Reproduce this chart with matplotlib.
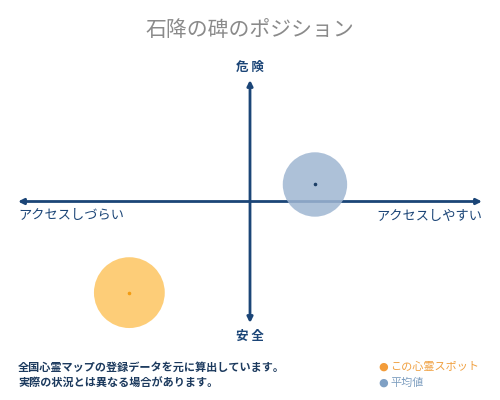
import matplotlib.pyplot as plt
import matplotlib as mpl

mpl.rcParams['font.family'] = ['Noto Sans CJK JP', 'DejaVu Sans']

# Data
title = '石降の碑のポジション'
y_labels = ['安 全', '危 険']
x_labels = ['アクセスしづらい', 'アクセスしやすい']
point_names = ['この心霊スポット', '平均値']
point_x = [-0.52, 0.28]
point_y = [-0.75, 0.14]
point_colors = ['#fdc561', '#9fb6d2']
dot_colors = ['#f39c12', '#1c3f66']
point_sizes = [2600, 2150]
notes = ['全国心霊マップの登録データを元に算出しています。',
         '実際の状況とは異なる場合があります。']

navy = '#1b4577'

fig = plt.figure(figsize=(5, 4), dpi=100)

def fx(px):
    return px / 500

def fy(py):
    return 1 - py / 400

# quadrant area
ax = fig.add_axes([fx(18), fy(323), fx(482) - fx(18), fy(80) - fy(323)])
ax.set_xlim(-1, 1)
ax.set_ylim(-1, 1)
ax.axis('off')

arrow = dict(arrowstyle='<|-|>', color=navy, lw=2.0, mutation_scale=8,
             shrinkA=0, shrinkB=0)
ax.annotate('', xy=(-1, 0.0), xytext=(1, 0.0), arrowprops=arrow)
ax.annotate('', xy=(0, -1), xytext=(0, 1), arrowprops=arrow)

for i in range(len(point_names)):
    ax.scatter(point_x[i], point_y[i], s=point_sizes[i], color=point_colors[i],
               alpha=0.85, edgecolors='none', zorder=3, clip_on=False)
    ax.scatter(point_x[i], point_y[i], s=2.5, color=dot_colors[i], zorder=4,
               clip_on=False)

# texts
fig.text(0.5, fy(30), title, ha='center', va='center', fontsize=15, color='#8a8a8a')
fig.text(0.5, fy(67), y_labels[1], ha='center', va='center', fontsize=9,
         color=navy, fontweight='bold')
fig.text(0.5, fy(336), y_labels[0], ha='center', va='center', fontsize=9,
         color=navy, fontweight='bold')
fig.text(fx(18), fy(216), x_labels[0], ha='left', va='center', fontsize=9.5,
         color=navy)
fig.text(fx(482), fy(216), x_labels[1], ha='right', va='center', fontsize=9.5,
         color=navy)

fig.text(fx(18), fy(367), notes[0], ha='left', va='center', fontsize=8,
         color='#1c3a5e', fontweight='bold')
fig.text(fx(18), fy(383), notes[1], ha='left', va='center', fontsize=8,
         color='#1c3a5e', fontweight='bold')

legend_text_colors = ['#f0a040', '#7f9fc0']
legend_marker_colors = ['#f39c3a', '#7fa0c4']
for i, name in enumerate(point_names):
    yy = fy(367 + 16 * i)
    fig.text(fx(383), yy, '●', ha='center', va='center', fontsize=8,
             color=legend_marker_colors[i], family=['DejaVu Sans'])
    fig.text(fx(390), yy, name, ha='left', va='center', fontsize=8,
             color=legend_text_colors[i])

fig.savefig('out.png', dpi=100)
